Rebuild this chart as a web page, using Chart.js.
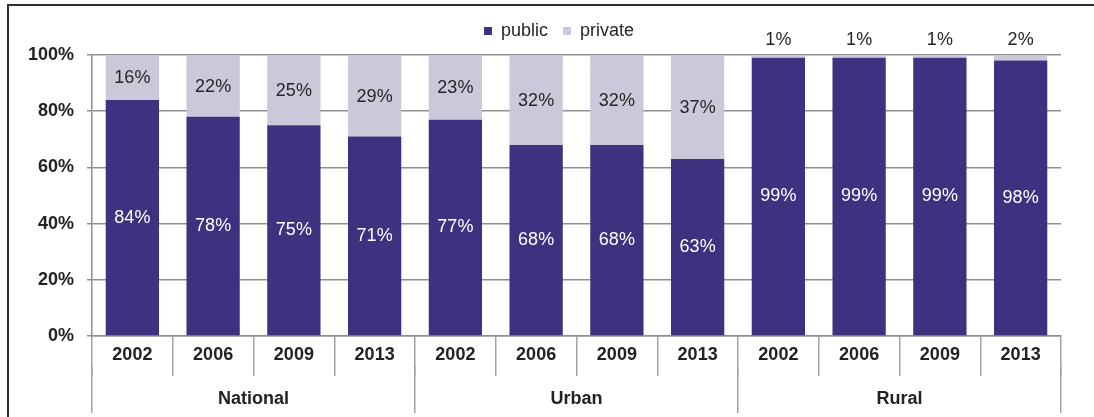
<!DOCTYPE html>
<html>
<head>
<meta charset="utf-8">
<script src="https://cdn.jsdelivr.net/npm/chart.js@4/dist/chart.umd.min.js"></script>
<style>
  html, body { margin: 0; padding: 0; background: #fff; }
  #wrap { position: relative; width: 1094px; height: 417px; }
  #frame {
    position: absolute; left: 7px; top: 4px; right: 0; bottom: 0;
    border-top: 2px solid #2f2f2f; border-left: 2px solid #2f2f2f;
    pointer-events: none;
  }
</style>
</head>
<body>
<div id="wrap">
  <canvas id="chart" width="1094" height="417"></canvas>
  <div id="frame"></div>
</div>
<script>
  const years = ['2002', '2006', '2009', '2013', '2002', '2006', '2009', '2013', '2002', '2006', '2009', '2013']
  const groups = ['National', 'Urban', 'Rural']
  const publicShare = [84, 78, 75, 71, 77, 68, 68, 63, 99, 99, 99, 98]
  const privateShare = [16, 22, 25, 29, 23, 32, 32, 37, 1, 1, 1, 2]
  const yTicks = [0, 20, 40, 60, 80, 100]

  const FONT = "'Liberation Sans', Arial, sans-serif"
  const gridGrey = '#8f8f8f'
  const sepGrey = '#a3a3a3'

  // writes each segment's share on the bar; thin slices get it above the bar
  const barLabels = {
    id: 'barLabels',
    afterDatasetsDraw(chart) {
      const ctx = chart.ctx
      ctx.save()
      ctx.font = '18px ' + FONT
      ctx.textAlign = 'center'
      ctx.textBaseline = 'middle'
      chart.data.datasets.forEach((ds, di) => {
        const meta = chart.getDatasetMeta(di)
        meta.data.forEach((bar, i) => {
          const v = ds.data[i]
          const top = Math.min(bar.y, bar.base)
          const bottom = Math.max(bar.y, bar.base)
          let y = (top + bottom) / 2
          if (di === 0) {
            ctx.fillStyle = '#ffffff'
          } else {
            ctx.fillStyle = '#262626'
            if (v < 5) y = top - 15
            else y += 1
          }
          ctx.fillText(v + '%', bar.x, y)
        })
      })
      ctx.restore()
    }
  }

  // legend sits a little left of the plot centre and close to the top edge
  const legendShift = {
    id: 'legendShift',
    afterLayout(chart) {
      const lg = chart.legend
      if (!lg) return
      lg.left += 24
      lg.right += 24
      lg.top -= 5
      lg.bottom -= 5
    }
  }

  new Chart(document.getElementById('chart'), {
    type: 'bar',
    data: {
      labels: years,
      datasets: [
        { label: 'public', data: publicShare, backgroundColor: '#3e3280', borderWidth: 0 },
        { label: 'private', data: privateShare, backgroundColor: '#cac8d9', borderWidth: 0 }
      ]
    },
    options: {
      responsive: false,
      animation: false,
      layout: { padding: { left: 9, right: 33, top: 12, bottom: 0 } },
      datasets: { bar: { categoryPercentage: 1, barPercentage: 0.66 } },
      plugins: {
        tooltip: { enabled: false },
        legend: {
          position: 'top',
          labels: {
            boxWidth: 8,
            boxHeight: 8,
            padding: 15,
            color: '#262626',
            font: { family: FONT, size: 18 }
          }
        }
      },
      scales: {
        x: {
          stacked: true,
          position: 'bottom',
          afterFit(scale) { scale.height = 30 },
          border: { display: true, color: gridGrey, width: 1.5 },
          grid: {
            offset: true,
            drawOnChartArea: false,
            drawTicks: true,
            tickLength: 40,
            color: sepGrey,
            lineWidth: 1.5
          },
          ticks: {
            mirror: true,
            padding: -30,
            color: '#222',
            font: { family: FONT, size: 18, weight: 'bold' },
            maxRotation: 0
          }
        },
        x2: {
          type: 'category',
          labels: groups,
          position: 'bottom',
          offset: true,
          afterFit(scale) { scale.height = 51 },
          border: { display: false },
          grid: {
            offset: true,
            drawOnChartArea: false,
            drawTicks: true,
            tickLength: 47,
            color: sepGrey,
            lineWidth: 1.5
          },
          ticks: {
            mirror: true,
            padding: -44,
            color: '#222',
            font: { family: FONT, size: 18, weight: 'bold' },
            maxRotation: 0
          }
        },
        y: {
          stacked: true,
          min: 0,
          max: 100,
          afterFit(scale) { scale.width = 83 },
          afterBuildTicks(scale) { scale.ticks = yTicks.map(v => ({ value: v })) },
          border: { display: true, color: gridGrey, width: 1.5 },
          grid: { color: gridGrey, lineWidth: 1.5, tickLength: 5 },
          ticks: {
            padding: 13,
            color: '#222',
            font: { family: FONT, size: 18, weight: 'bold' },
            callback: v => v + '%'
          }
        }
      }
    },
    plugins: [barLabels, legendShift]
  })
</script>
</body>
</html>
